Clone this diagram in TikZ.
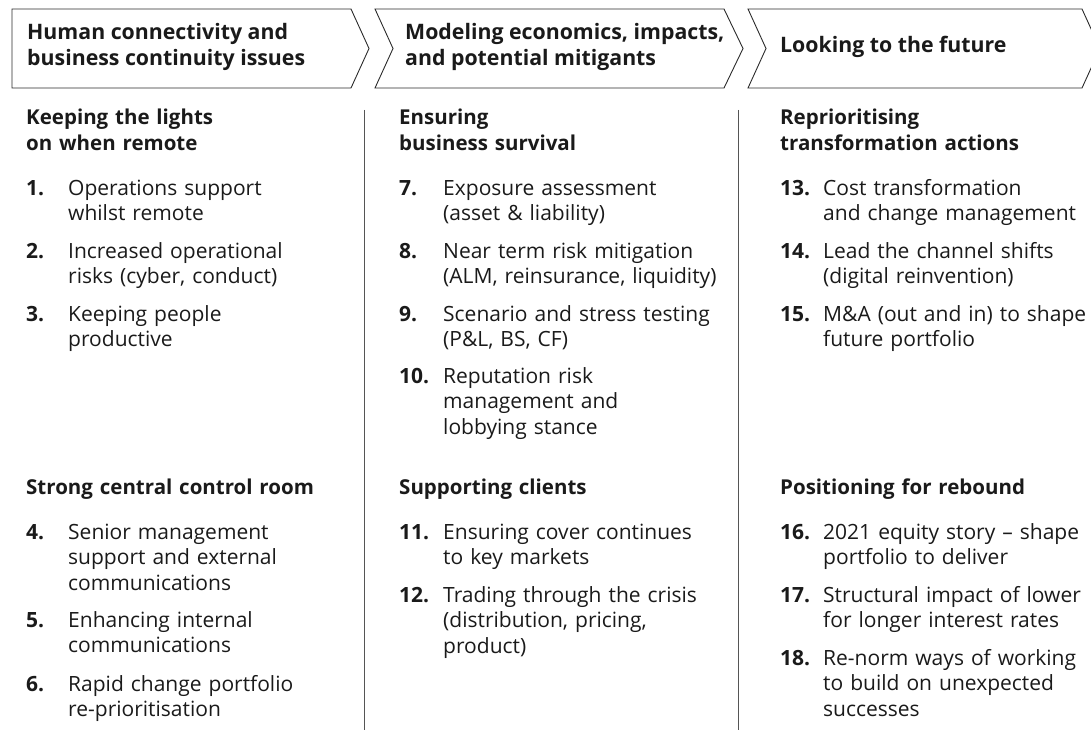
\documentclass[tikz,border=0pt]{standalone}
\usepackage{fontspec}
\IfFontExistsTF{Noto Sans Bold}
  {\setmainfont{Noto Sans}[BoldFont={Noto Sans Bold}]}
  {\IfFontExistsTF{Open Sans Bold}
    {\setmainfont{Open Sans}[BoldFont={Open Sans Bold}]}
    {\setmainfont{Noto Sans}[BoldFeatures={FakeBold=2.5}]}}
\usepackage{tikz}
\definecolor{InkBlack}{HTML}{1A1A1A}
\definecolor{FrameGrey}{HTML}{2B2B2B}
\definecolor{RuleGrey}{HTML}{555555}
\tikzset{
  chevron/.style={draw=FrameGrey, line width=0.9pt, line join=miter},
  stage/.style={anchor=west, inner sep=0pt, align=left, text=InkBlack,
    font=\bfseries\fontsize{21.3}{26}\selectfont},
  topic/.style={anchor=base west, inner sep=0pt, text width=330pt,
    align=left, text=InkBlack, font=\bfseries\fontsize{20.5}{25.5}\selectfont},
  num/.style={anchor=base west, inner sep=0pt, text=InkBlack,
    font=\bfseries\fontsize{21}{25.5}\selectfont},
  item/.style={anchor=base west, inner sep=0pt, text width=300pt,
    align=left, text=InkBlack, font=\fontsize{21}{25.5}\selectfont},
}

\begin{document}
\begin{tikzpicture}[x=1pt, y=-1pt]
    \useasboundingbox (0,0) rectangle (1091,730);
    \clip (0,0) rectangle (1091,730);
    % Stages
    \draw[chevron] (12,9) -- (351,9) -- (369,48.5) -- (351,88) -- (12,88) -- cycle;
    \draw[chevron] (375,9) -- (724,9) -- (743,48.5) -- (724,88) -- (375,88)
    -- (393,48.5) -- cycle;
    \draw[chevron] (748,9) -- (1082,9) -- (1100,48.5) -- (1082,88) -- (748,88)
    -- (766,48.5) -- cycle;
    \node[stage] (stageA) at (27,47) {Human connectivity and\\business continuity issues};
    \node[stage] (stageB) at (405,47) {Modeling economics, impacts,\\and potential mitigants};
    \node[stage] (stageC) at (780,47) {Looking to the future};
    % column rules
    \draw[RuleGrey, line width=0.9pt] (364,110) -- (364,730);
    \draw[RuleGrey, line width=0.9pt] (738,110) -- (738,730);
    % first column
    \node[topic] (topicA) at (26,125) {Keeping the lights\\on when remote};
    \node[num] (n1) at (26,195) {1.}; \node[item] (t1) at (68,195) {Operations support\\whilst remote};
    \node[num] (n2) at (26,258) {2.}; \node[item] (t2) at (68,258) {Increased operational\\risks (cyber, conduct)};
    \node[num] (n3) at (26,321) {3.}; \node[item] (t3) at (68,321) {Keeping people\\productive};
    \node[topic] (topicB) at (26,494) {Strong central control room};
    \node[num] (n4) at (26,539) {4.}; \node[item] (t4) at (68,539) {Senior management\\support and external\\communications};
    \node[num] (n5) at (26,627) {5.}; \node[item] (t5) at (68,627) {Enhancing internal\\communications};
    \node[num] (n6) at (26,691) {6.}; \node[item] (t6) at (68,691) {Rapid change portfolio\\re-prioritisation};
    % second column
    \node[topic] (topicC) at (399,125) {Ensuring\\business survival};
    \node[num] (n7) at (399,195) {7.}; \node[item] (t7) at (443,195) {Exposure assessment\\(asset \& liability)};
    \node[num] (n8) at (399,258) {8.}; \node[item] (t8) at (443,258) {Near term risk mitigation\\(ALM, reinsurance, liquidity)};
    \node[num] (n9) at (399,321) {9.}; \node[item] (t9) at (443,321) {Scenario and stress testing\\(P\&L, BS, CF)};
    \node[num] (n10) at (399,383) {10.}; \node[item] (t10) at (443,383) {Reputation risk\\management and\\lobbying stance};
    \node[topic] (topicD) at (399,494) {Supporting clients};
    \node[num] (n11) at (399,539) {11.}; \node[item] (t11) at (443,539) {Ensuring cover continues\\to key markets};
    \node[num] (n12) at (399,602) {12.}; \node[item] (t12) at (443,602) {Trading through the crisis\\(distribution, pricing,\\product)};
    % third column
    \node[topic] (topicE) at (780,125) {Reprioritising\\transformation actions};
    \node[num] (n13) at (780,195) {13.}; \node[item] (t13) at (823,195) {Cost transformation\\and change management};
    \node[num] (n14) at (780,258) {14.}; \node[item] (t14) at (823,258) {Lead the channel shifts\\(digital reinvention)};
    \node[num] (n15) at (780,321) {15.}; \node[item] (t15) at (823,321) {M\&A (out and in) to shape\\future portfolio};
    \node[topic] (topicF) at (780,494) {Positioning for rebound};
    \node[num] (n16) at (780,539) {16.}; \node[item] (t16) at (823,539) {2021 equity story – shape\\portfolio to deliver};
    \node[num] (n17) at (780,602) {17.}; \node[item] (t17) at (823,602) {Structural impact of lower\\for longer interest rates};
    \node[num] (n18) at (780,665) {18.}; \node[item] (t18) at (823,665) {Re-norm ways of working\\to build on unexpected\\successes};
\end{tikzpicture}
\end{document}
